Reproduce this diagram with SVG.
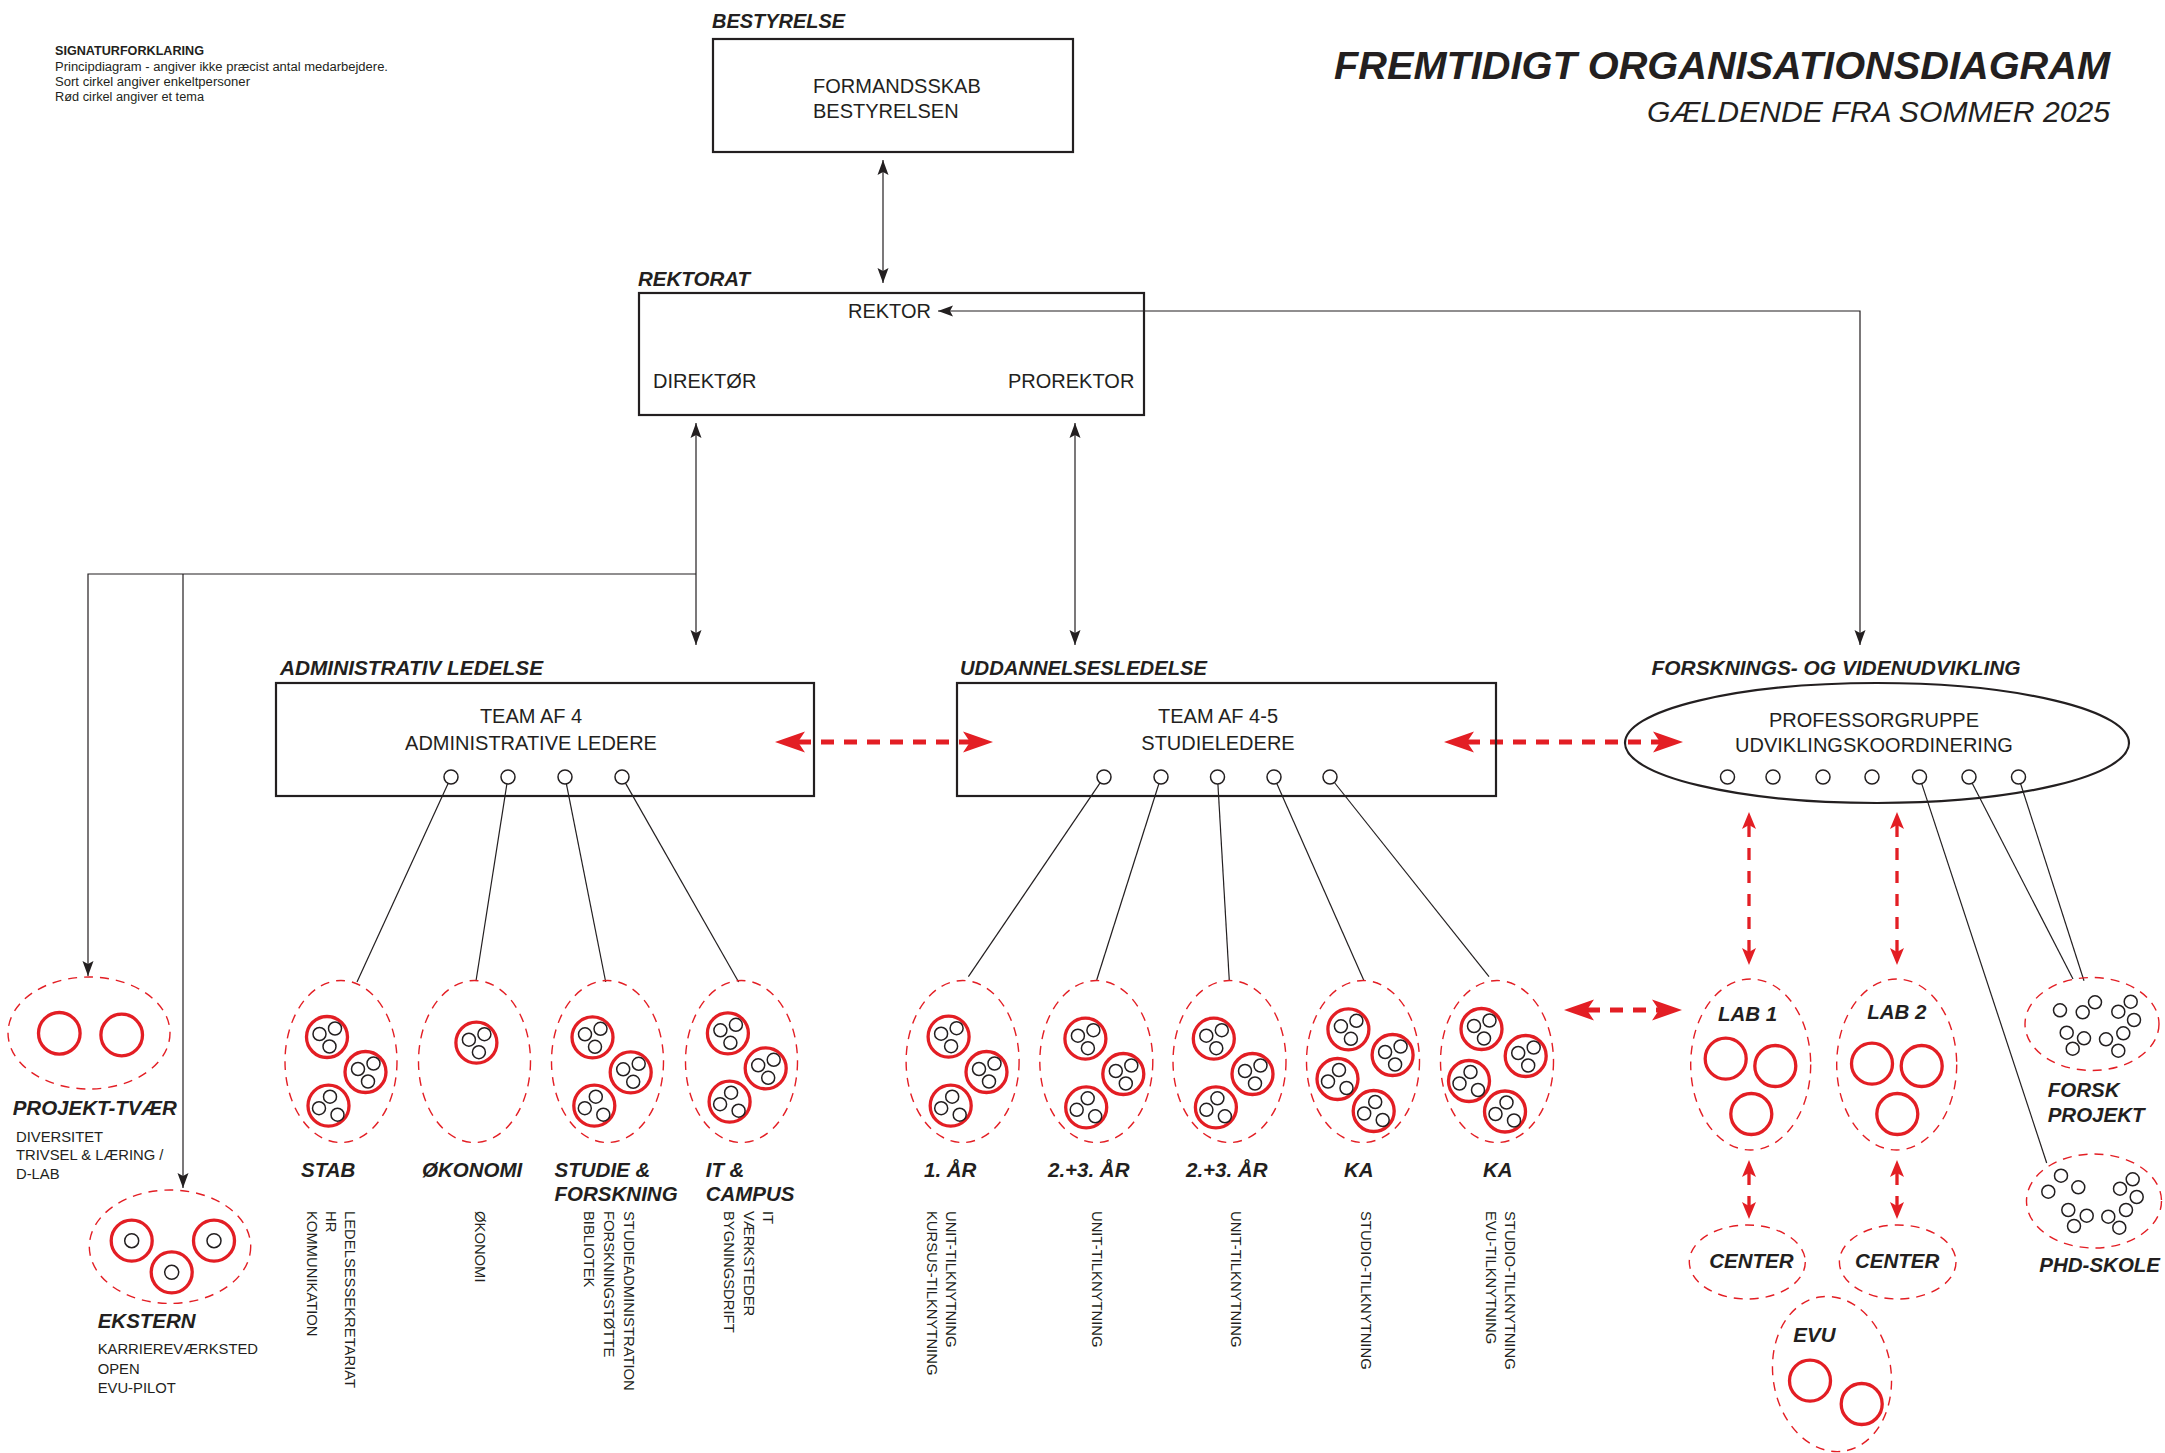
<svg xmlns="http://www.w3.org/2000/svg" xmlns:xlink="http://www.w3.org/1999/xlink" width="2165" height="1453" viewBox="0 0 2165 1453">
<style>
.t{font-family:"Liberation Sans",Arial,sans-serif;fill:#231f20}
.bx{font-size:20px}
.hd{font-size:20.5px;font-weight:bold;font-style:italic}
.lb{font-size:20.5px;font-weight:bold;font-style:italic}
.vt{font-size:14.8px}
.ds{font-size:14.8px}
.lg{font-size:12px}
.box{fill:none;stroke:#231f20;stroke-width:2.2}
.ln{fill:none;stroke:#231f20;stroke-width:1.2}
.grp{fill:none;stroke:#e31e24;stroke-width:1.4;stroke-dasharray:9 7}
.rc{fill:none;stroke:#e31e24;stroke-width:3.3}
.bc{fill:none;stroke:#231f20;stroke-width:1.5}
.rd{fill:none;stroke:#e31e24;stroke-width:5;stroke-dasharray:13 10}
.rdt{fill:none;stroke:#e31e24;stroke-width:3.3;stroke-dasharray:12 11}
</style>
<defs>
<marker id="ab" markerUnits="userSpaceOnUse" viewBox="0 0 16 12" markerWidth="16" markerHeight="12" refX="15" refY="6" orient="auto-start-reverse"><path d="M0,0.5 L15,6 L0,11.5 L3,6 z" fill="#231f20"/></marker>
<marker id="ar" markerUnits="userSpaceOnUse" viewBox="0 0 31 22" markerWidth="31" markerHeight="22" refX="7" refY="11" orient="auto-start-reverse"><path d="M30,11 L0,0.5 L7,11 L0,21.5 z" fill="#e31e24"/></marker>
<marker id="as" markerUnits="userSpaceOnUse" viewBox="0 0 18 15" markerWidth="18" markerHeight="15" refX="4" refY="7.5" orient="auto-start-reverse"><path d="M17,7.5 L0,0.5 L4,7.5 L0,14.5 z" fill="#e31e24"/></marker>
<g id="ca"><circle r="20.5" class="rc"/><circle cx="-7.5" cy="-3" r="6.5" class="bc"/><circle cx="8" cy="-8.5" r="6.5" class="bc"/><circle cx="2.5" cy="9.5" r="6.5" class="bc"/></g>
<g id="cb"><circle r="20.5" class="rc"/><circle cx="1.5" cy="-9" r="6.5" class="bc"/><circle cx="-9.5" cy="2.5" r="6.5" class="bc"/><circle cx="9" cy="9" r="6.5" class="bc"/></g>
</defs>
<rect width="2165" height="1453" fill="#ffffff"/>

<g id="legend">
<text class="t lg" x="55" y="55" font-weight="bold" textLength="149" lengthAdjust="spacingAndGlyphs">SIGNATURFORKLARING</text>
<text class="t lg" x="55" y="70.5" textLength="333" lengthAdjust="spacingAndGlyphs">Principdiagram - angiver ikke præcist antal medarbejdere.</text>
<text class="t lg" x="55" y="86" textLength="195" lengthAdjust="spacingAndGlyphs">Sort cirkel angiver enkeltpersoner</text>
<text class="t lg" x="55" y="101" textLength="149" lengthAdjust="spacingAndGlyphs">Rød cirkel angiver et tema</text>
</g>

<g id="title">
<text class="t" x="1334" y="79" font-size="39" font-weight="bold" font-style="italic" textLength="776" lengthAdjust="spacingAndGlyphs">FREMTIDIGT ORGANISATIONSDIAGRAM</text>
<text class="t" x="1647" y="122" font-size="30" font-style="italic" textLength="463" lengthAdjust="spacingAndGlyphs">GÆLDENDE FRA SOMMER 2025</text>
</g>

<g id="connectors">
<line class="ln" x1="883" y1="160" x2="883" y2="283" marker-start="url(#ab)" marker-end="url(#ab)"/>
<path class="ln" d="M1860,645 L1860,311 L938,311" marker-start="url(#ab)" marker-end="url(#ab)"/>
<line class="ln" x1="696" y1="423" x2="696" y2="645" marker-start="url(#ab)" marker-end="url(#ab)"/>
<line class="ln" x1="1075" y1="423" x2="1075" y2="645" marker-start="url(#ab)" marker-end="url(#ab)"/>
<path class="ln" d="M696,574 L88,574 L88,976" marker-end="url(#ab)"/>
<line class="ln" x1="183" y1="574" x2="183" y2="1188" marker-end="url(#ab)"/>
<line class="ln" x1="448.1" y1="783.4" x2="357" y2="982"/>
<line class="ln" x1="506.9" y1="783.9" x2="476" y2="981"/>
<line class="ln" x1="566.4" y1="783.9" x2="605.7" y2="982"/>
<line class="ln" x1="625.5" y1="783.1" x2="738.6" y2="982"/>
<line class="ln" x1="1100.1" y1="782.8" x2="968.4" y2="976.7"/>
<line class="ln" x1="1158.9" y1="783.7" x2="1096.7" y2="980"/>
<line class="ln" x1="1217.9" y1="784" x2="1229.3" y2="980.7"/>
<line class="ln" x1="1276.8" y1="783.4" x2="1364" y2="980.7"/>
<line class="ln" x1="1334.4" y1="782.5" x2="1489" y2="976.7"/>
<line class="ln" x1="1921.7" y1="783.6" x2="2046.7" y2="1163"/>
<line class="ln" x1="1972.2" y1="783.2" x2="2073" y2="979"/>
<line class="ln" x1="2020.6" y1="783.7" x2="2084" y2="980.7"/>
<line class="rd" x1="798" y1="742" x2="970" y2="742" marker-start="url(#ar)" marker-end="url(#ar)"/>
<line class="rd" x1="1467" y1="742" x2="1660" y2="742" marker-start="url(#ar)" marker-end="url(#ar)"/>
<line class="rd" x1="1587" y1="1010" x2="1659" y2="1010" marker-start="url(#ar)" marker-end="url(#ar)"/>
<line class="rdt" x1="1749" y1="825" x2="1749" y2="952" marker-start="url(#as)" marker-end="url(#as)"/>
<line class="rdt" x1="1897" y1="825" x2="1897" y2="952" marker-start="url(#as)" marker-end="url(#as)"/>
<line class="rdt" x1="1749" y1="1173" x2="1749" y2="1206" stroke-dasharray="0 10 13 20" marker-start="url(#as)" marker-end="url(#as)"/>
<line class="rdt" x1="1897" y1="1173" x2="1897" y2="1206" stroke-dasharray="0 10 13 20" marker-start="url(#as)" marker-end="url(#as)"/>
</g>

<g id="bestyrelse">
<text class="t hd" x="712" y="28" textLength="133" lengthAdjust="spacingAndGlyphs">BESTYRELSE</text>
<rect class="box" x="713" y="39" width="360" height="113"/>
<text class="t bx" x="813" y="93">FORMANDSSKAB</text>
<text class="t bx" x="813" y="118">BESTYRELSEN</text>
</g>

<g id="rektorat">
<text class="t hd" x="638" y="286">REKTORAT</text>
<rect class="box" x="639" y="293" width="505" height="122"/>
<text class="t bx" x="848" y="318">REKTOR</text>
<text class="t bx" x="653" y="388">DIREKTØR</text>
<text class="t bx" x="1008" y="388">PROREKTOR</text>
</g>

<g id="administrativ">
<text class="t hd" x="280" y="675" textLength="263" lengthAdjust="spacingAndGlyphs">ADMINISTRATIV LEDELSE</text>
<rect class="box" x="276" y="683" width="538" height="113"/>
<text class="t bx" x="531" y="723" text-anchor="middle">TEAM AF 4</text>
<text class="t bx" x="531" y="750" text-anchor="middle">ADMINISTRATIVE LEDERE</text>
<circle class="bc" cx="451" cy="777" r="7"/><circle class="bc" cx="508" cy="777" r="7"/><circle class="bc" cx="565" cy="777" r="7"/><circle class="bc" cx="622" cy="777" r="7"/>
</g>

<g id="uddannelse">
<text class="t hd" x="960" y="675" textLength="247" lengthAdjust="spacingAndGlyphs">UDDANNELSESLEDELSE</text>
<rect class="box" x="957" y="683" width="539" height="113"/>
<text class="t bx" x="1218" y="723" text-anchor="middle">TEAM AF 4-5</text>
<text class="t bx" x="1218" y="750" text-anchor="middle">STUDIELEDERE</text>
<circle class="bc" cx="1104" cy="777" r="7"/><circle class="bc" cx="1161" cy="777" r="7"/><circle class="bc" cx="1217.5" cy="777" r="7"/><circle class="bc" cx="1274" cy="777" r="7"/><circle class="bc" cx="1330" cy="777" r="7"/>
</g>

<g id="forskning">
<text class="t hd" x="1651.6" y="675" textLength="369" lengthAdjust="spacingAndGlyphs">FORSKNINGS- OG VIDENUDVIKLING</text>
<ellipse class="box" cx="1877" cy="743" rx="252" ry="60"/>
<text class="t bx" x="1874" y="727" text-anchor="middle">PROFESSORGRUPPE</text>
<text class="t bx" x="1874" y="752" text-anchor="middle">UDVIKLINGSKOORDINERING</text>
<circle class="bc" cx="1727.5" cy="777" r="7"/><circle class="bc" cx="1773" cy="777" r="7"/><circle class="bc" cx="1823" cy="777" r="7"/><circle class="bc" cx="1872" cy="777" r="7"/><circle class="bc" cx="1919.5" cy="777" r="7"/><circle class="bc" cx="1969" cy="777" r="7"/><circle class="bc" cx="2018.5" cy="777" r="7"/>
</g>

<g id="projekt-tvaer">
<ellipse class="grp" cx="89" cy="1033" rx="81" ry="56"/>
<circle class="rc" cx="59.3" cy="1033.3" r="20.8"/><circle class="rc" cx="121.7" cy="1035" r="20.8"/>
<text class="t lb" x="12.7" y="1115">PROJEKT-TVÆR</text>
<text class="t ds" x="16" y="1141.7">DIVERSITET</text>
<text class="t ds" x="16" y="1160.3">TRIVSEL &amp; LÆRING /</text>
<text class="t ds" x="16" y="1179">D-LAB</text>
</g>

<g id="ekstern">
<ellipse class="grp" cx="170" cy="1246.7" rx="80.7" ry="56.7"/>
<circle class="rc" cx="131.7" cy="1240.7" r="20.5"/><circle class="bc" cx="131.7" cy="1240.7" r="7"/>
<circle class="rc" cx="214" cy="1240.7" r="20.5"/><circle class="bc" cx="214" cy="1240.7" r="7"/>
<circle class="rc" cx="171.7" cy="1272.3" r="20.5"/><circle class="bc" cx="171.7" cy="1272.3" r="7"/>
<text class="t lb" x="97.7" y="1327.7">EKSTERN</text>
<text class="t ds" x="97.7" y="1354.3">KARRIEREVÆRKSTED</text>
<text class="t ds" x="97.7" y="1374">OPEN</text>
<text class="t ds" x="97.7" y="1393.3">EVU-PILOT</text>
</g>

<g id="stab">
<ellipse class="grp" cx="341" cy="1061.5" rx="56" ry="81"/>
<use xlink:href="#ca" x="327" y="1037"/><use xlink:href="#ca" x="365.5" y="1072"/><use xlink:href="#cb" x="328.5" y="1105.7"/>
<text class="t lb" x="301" y="1177">STAB</text>
<text class="t vt" transform="translate(344.7,1211) rotate(90)"><tspan x="0" y="0">LEDELSESSEKRETARIAT</tspan><tspan x="0" y="19">HR</tspan><tspan x="0" y="38">KOMMUNIKATION</tspan></text>
</g>

<g id="okonomi">
<ellipse class="grp" cx="474.5" cy="1061.5" rx="56" ry="81"/>
<use xlink:href="#ca" x="476.4" y="1042.7"/>
<text class="t lb" x="422" y="1177">ØKONOMI</text>
<text class="t vt" transform="translate(475.4,1211) rotate(90)"><tspan x="0" y="0">ØKONOMI</tspan></text>
</g>

<g id="studie-forskning">
<ellipse class="grp" cx="607.5" cy="1061.5" rx="56" ry="81"/>
<use xlink:href="#ca" x="592.5" y="1037.3"/><use xlink:href="#ca" x="630.7" y="1072.3"/><use xlink:href="#cb" x="594.3" y="1105.7"/>
<text class="t lb" x="554.6" y="1177">STUDIE &amp;</text>
<text class="t lb" x="554.6" y="1201">FORSKNING</text>
<text class="t vt" transform="translate(623.7,1211) rotate(90)"><tspan x="0" y="0">STUDIEADMINISTRATION</tspan><tspan x="0" y="19.7">FORSKNINGSTØTTE</tspan><tspan x="0" y="39.4">BIBLIOTEK</tspan></text>
</g>

<g id="it-campus">
<ellipse class="grp" cx="741.5" cy="1061.5" rx="56" ry="81"/>
<use xlink:href="#ca" x="727.9" y="1033.3"/><use xlink:href="#ca" x="765.7" y="1068.3"/><use xlink:href="#cb" x="729.6" y="1101.7"/>
<text class="t lb" x="705.7" y="1177">IT &amp;</text>
<text class="t lb" x="705.7" y="1201">CAMPUS</text>
<text class="t vt" transform="translate(762.7,1211) rotate(90)"><tspan x="0" y="0">IT</tspan><tspan x="0" y="19.2">VÆRKSTEDER</tspan><tspan x="0" y="38.4">BYGNINGSDRIFT</tspan></text>
</g>

<g id="aar1">
<ellipse class="grp" cx="962.6" cy="1061.5" rx="56.5" ry="81"/>
<use xlink:href="#ca" x="948.6" y="1036.7"/><use xlink:href="#ca" x="986.5" y="1072"/><use xlink:href="#cb" x="950.7" y="1105.7"/>
<text class="t lb" x="924" y="1177">1. ÅR</text>
<text class="t vt" transform="translate(946.2,1211) rotate(90)"><tspan x="0" y="0">UNIT-TILKNYTNING</tspan><tspan x="0" y="19.7">KURSUS-TILKNYTNING</tspan></text>
</g>

<g id="aar23a">
<ellipse class="grp" cx="1096.3" cy="1061.5" rx="56.5" ry="81"/>
<use xlink:href="#ca" x="1085.4" y="1038.7"/><use xlink:href="#ca" x="1123.3" y="1074"/><use xlink:href="#cb" x="1086.2" y="1107.3"/>
<text class="t lb" x="1048" y="1177">2.+3. ÅR</text>
<text class="t vt" transform="translate(1092.3,1211) rotate(90)"><tspan x="0" y="0">UNIT-TILKNYTNING</tspan></text>
</g>

<g id="aar23b">
<ellipse class="grp" cx="1229.5" cy="1061.5" rx="56.5" ry="81"/>
<use xlink:href="#ca" x="1213.8" y="1038.7"/><use xlink:href="#ca" x="1252.5" y="1074"/><use xlink:href="#cb" x="1215.9" y="1107.3"/>
<text class="t lb" x="1186" y="1177">2.+3. ÅR</text>
<text class="t vt" transform="translate(1231.2,1211) rotate(90)"><tspan x="0" y="0">UNIT-TILKNYTNING</tspan></text>
</g>

<g id="ka1">
<ellipse class="grp" cx="1363" cy="1061.5" rx="56.5" ry="81"/>
<use xlink:href="#ca" x="1348.4" y="1029.3"/><use xlink:href="#ca" x="1392.6" y="1055"/><use xlink:href="#cb" x="1337.5" y="1079"/><use xlink:href="#cb" x="1373.7" y="1111"/>
<text class="t lb" x="1344" y="1177">KA</text>
<text class="t vt" transform="translate(1360.7,1211) rotate(90)"><tspan x="0" y="0">STUDIO-TILKNYTNING</tspan></text>
</g>

<g id="ka2">
<ellipse class="grp" cx="1497" cy="1061.5" rx="56.5" ry="81"/>
<use xlink:href="#ca" x="1481.5" y="1029"/><use xlink:href="#ca" x="1525.7" y="1056"/><use xlink:href="#cb" x="1469" y="1081"/><use xlink:href="#cb" x="1505" y="1111.5"/>
<text class="t lb" x="1483" y="1177">KA</text>
<text class="t vt" transform="translate(1504.7,1211) rotate(90)"><tspan x="0" y="0">STUDIO-TILKNYTNING</tspan><tspan x="0" y="19">EVU-TILKNYTNING</tspan></text>
</g>

<g id="lab1">
<ellipse class="grp" cx="1750.7" cy="1064.5" rx="60" ry="85.5"/>
<text class="t lb" x="1718" y="1020.7">LAB 1</text>
<circle class="rc" cx="1725.7" cy="1058.7" r="20.5"/><circle class="rc" cx="1775.3" cy="1066" r="20.5"/><circle class="rc" cx="1751.3" cy="1114" r="20.5"/>
</g>

<g id="lab2">
<ellipse class="grp" cx="1896.7" cy="1064.5" rx="60" ry="85.5"/>
<text class="t lb" x="1867.3" y="1019">LAB 2</text>
<circle class="rc" cx="1872" cy="1063.7" r="20.5"/><circle class="rc" cx="1921.7" cy="1066" r="20.5"/><circle class="rc" cx="1897.3" cy="1114" r="20.5"/>
</g>

<g id="center1">
<ellipse class="grp" cx="1747.3" cy="1262" rx="58" ry="37"/>
<text class="t lb" x="1709.3" y="1268">CENTER</text>
</g>

<g id="center2">
<ellipse class="grp" cx="1897.7" cy="1262" rx="58.3" ry="37"/>
<text class="t lb" x="1855" y="1268">CENTER</text>
</g>

<g id="evu">
<ellipse class="grp" cx="1832" cy="1374" rx="59" ry="78" transform="rotate(-9 1832 1374)"/>
<text class="t lb" x="1793.3" y="1341.7">EVU</text>
<circle class="rc" cx="1810" cy="1380.7" r="20.5"/><circle class="rc" cx="1861.7" cy="1404" r="20.5"/>
</g>

<g id="forsk-projekt">
<ellipse class="grp" cx="2092" cy="1024" rx="67" ry="46.5"/>
<circle class="bc" cx="2060" cy="1010.3" r="6.5"/><circle class="bc" cx="2082.7" cy="1012.3" r="6.5"/><circle class="bc" cx="2095" cy="1002.3" r="6.5"/><circle class="bc" cx="2118.3" cy="1011.7" r="6.5"/><circle class="bc" cx="2130.7" cy="1001.7" r="6.5"/><circle class="bc" cx="2134" cy="1020" r="6.5"/><circle class="bc" cx="2066.7" cy="1032.7" r="6.5"/><circle class="bc" cx="2084" cy="1038.3" r="6.5"/><circle class="bc" cx="2072.7" cy="1048.7" r="6.5"/><circle class="bc" cx="2106" cy="1039.3" r="6.5"/><circle class="bc" cx="2123.3" cy="1033.3" r="6.5"/><circle class="bc" cx="2118.3" cy="1050.7" r="6.5"/>
<text class="t lb" x="2047.7" y="1096.7">FORSK</text>
<text class="t lb" x="2047.7" y="1121.7">PROJEKT</text>
</g>

<g id="phd-skole">
<ellipse class="grp" cx="2094" cy="1201" rx="67.5" ry="47"/>
<circle class="bc" cx="2061" cy="1175.7" r="6.5"/><circle class="bc" cx="2048.3" cy="1191.7" r="6.5"/><circle class="bc" cx="2078.3" cy="1187.3" r="6.5"/><circle class="bc" cx="2068.3" cy="1210" r="6.5"/><circle class="bc" cx="2086.7" cy="1215.7" r="6.5"/><circle class="bc" cx="2074" cy="1226" r="6.5"/><circle class="bc" cx="2132.7" cy="1179.3" r="6.5"/><circle class="bc" cx="2120" cy="1188.7" r="6.5"/><circle class="bc" cx="2136.7" cy="1197" r="6.5"/><circle class="bc" cx="2126" cy="1210" r="6.5"/><circle class="bc" cx="2108.3" cy="1216.7" r="6.5"/><circle class="bc" cx="2119.3" cy="1227.7" r="6.5"/>
<text class="t lb" x="2039.3" y="1271.7">PHD-SKOLE</text>
</g>
</svg>
